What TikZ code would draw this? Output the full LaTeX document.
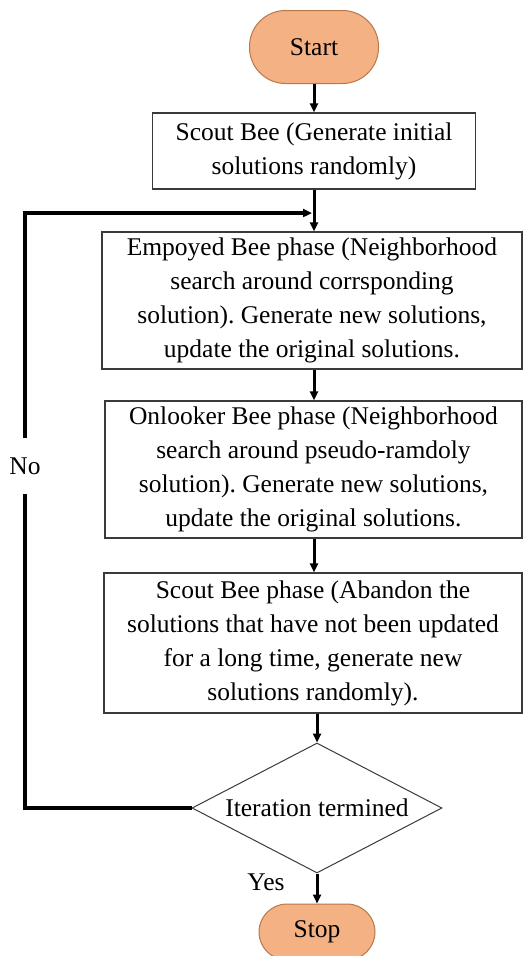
\documentclass[tikz,border=0pt]{standalone}
\usepackage{fontspec}
\setmainfont{Liberation Serif}
\usetikzlibrary{shapes.geometric,arrows.meta}
\definecolor{termfill}{HTML}{F4B183}
\definecolor{termdraw}{HTML}{B9774A}
\definecolor{boxdraw}{HTML}{3A3A3A}
\tikzset{
  txt/.style={font=\fontsize{25.5}{34}\selectfont\frenchspacing, align=center, text=black},
  term/.style={txt, draw=termdraw, fill=termfill, line width=1pt, inner sep=0pt},
  procbox/.style={txt, draw=boxdraw, line width=1.2pt, inner sep=0pt},
  decis/.style={txt, draw=boxdraw, line width=1pt, shape=diamond, inner sep=0pt, aspect=1.92},
  flow/.style={line width=3pt, -{Triangle[length=9pt,width=8pt]}},
  loopline/.style={line width=3.2pt},
}
\begin{document}
\begin{tikzpicture}[x=1pt,y=-1pt]
\useasboundingbox (0,0) rectangle (527,956);
\node[term, minimum width=129pt, minimum height=73pt, rounded corners=36pt] (start) at (314,47) {Start};
\node[procbox, minimum width=323pt, minimum height=76pt] (scout) at (314,151) {Scout Bee (Generate initial\\solutions randomly)};
\node[procbox, minimum width=420pt, minimum height=137pt] (emp) at (312,300.5) {Empoyed Bee phase (Neighborhood\\search around corrsponding\\solution). Generate new solutions,\\update the original solutions.};
\node[procbox, minimum width=417pt, minimum height=137pt] (onl) at (313.5,469.5) {Onlooker Bee phase (Neighborhood\\search around pseudo-ramdoly\\solution). Generate new solutions,\\update the original solutions.};
\node[procbox, minimum width=418pt, minimum height=140pt] (sbp) at (313,643) {Scout Bee phase (Abandon the\\solutions that have not been updated\\for a long time, generate new\\solutions randomly).};
\node[decis, minimum width=250pt, minimum height=130pt] (dia) at (317,808) {Iteration termined};
\node[term, minimum width=116pt, minimum height=56pt, rounded corners=28pt] (stop) at (317,932) {Stop};
\node[txt, inner sep=0pt, minimum height=56pt] (no) at (25,466) {No};
\node[txt, inner sep=0pt] (yes) at (266,882) {Yes};
\coordinate (jn) at (314,213);
\draw[flow] (start.south) -- (start.south |- scout.north);
\draw[line width=3pt] (scout.south) -- (jn);
\draw[flow] (jn) -- (jn |- emp.north);
\draw[flow] (emp.south -| jn) -- (jn |- onl.north);
\draw[flow] (onl.south -| jn) -- (jn |- sbp.north);
\draw[flow] (sbp.south -| dia.north) -- (dia.north);
\draw[flow] (dia.south) -- (dia.south |- stop.north);
\draw[loopline] (dia.west) -| (no.south);
\draw[loopline, -{Triangle[length=9pt,width=8pt]}] (no.north) |- ([xshift=-2pt]jn);
\end{tikzpicture}
\end{document}
